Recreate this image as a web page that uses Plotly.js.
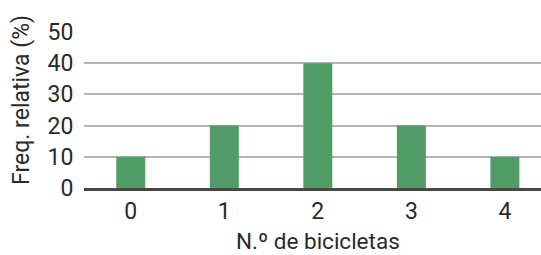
<!DOCTYPE html>
<html><head><meta charset="utf-8">
<script src="https://cdn.plot.ly/plotly-3.0.1.min.js"></script>
<style>html,body{margin:0;padding:0;background:#fff}</style>
</head><body>
<div id="chart" style="width:541px;height:255px"></div>
<script>
const categories = [0, 1, 2, 3, 4];
const freqRel = [10, 20, 40, 20, 10];
const yTicks = [0, 10, 20, 30, 40, 50];
const xTitle = 'N.º de bicicletas';
const yTitle = 'Freq. relativa (%)';

const font = {family: 'Roboto, sans-serif', size: 22, color: '#2a2a2a'};
Plotly.newPlot('chart', [{
  type: 'bar', x: categories, y: freqRel, width: 0.31,
  marker: {color: '#519c67', line: {width: 0}}, hoverinfo: 'none'
}], {
  width: 541, height: 255,
  margin: {l: 84, r: 0, t: 32, b: 67},
  paper_bgcolor: '#fff', plot_bgcolor: '#fff',
  font: font, showlegend: false,
  xaxis: {
    range: [-0.5, 4.386], tickvals: categories, ticktext: categories.map(String),
    showgrid: false, zeroline: false, showline: true, linecolor: '#4b4644', linewidth: 3,
    ticks: '', tickfont: {size: 23}
  },
  yaxis: {
    range: [0, 50], tickvals: yTicks, showgrid: true, gridcolor: '#b4b4b4', gridwidth: 2,
    zeroline: false, showline: false,
    ticks: 'outside', ticklen: 5, tickcolor: 'rgba(0,0,0,0)',
    tickfont: {size: 23}
  },
  annotations: [
    {text: xTitle, xref: 'paper', yref: 'paper', x: 0.511, y: -0.34,
     xanchor: 'center', yanchor: 'middle', showarrow: false, font: {size: 22.5}},
    {text: yTitle, xref: 'paper', yref: 'paper', x: -0.137, y: 0.567, textangle: -90,
     xanchor: 'center', yanchor: 'middle', showarrow: false, font: {size: 23}}
  ]
}, {staticPlot: true, displayModeBar: false});
</script>
</body></html>
